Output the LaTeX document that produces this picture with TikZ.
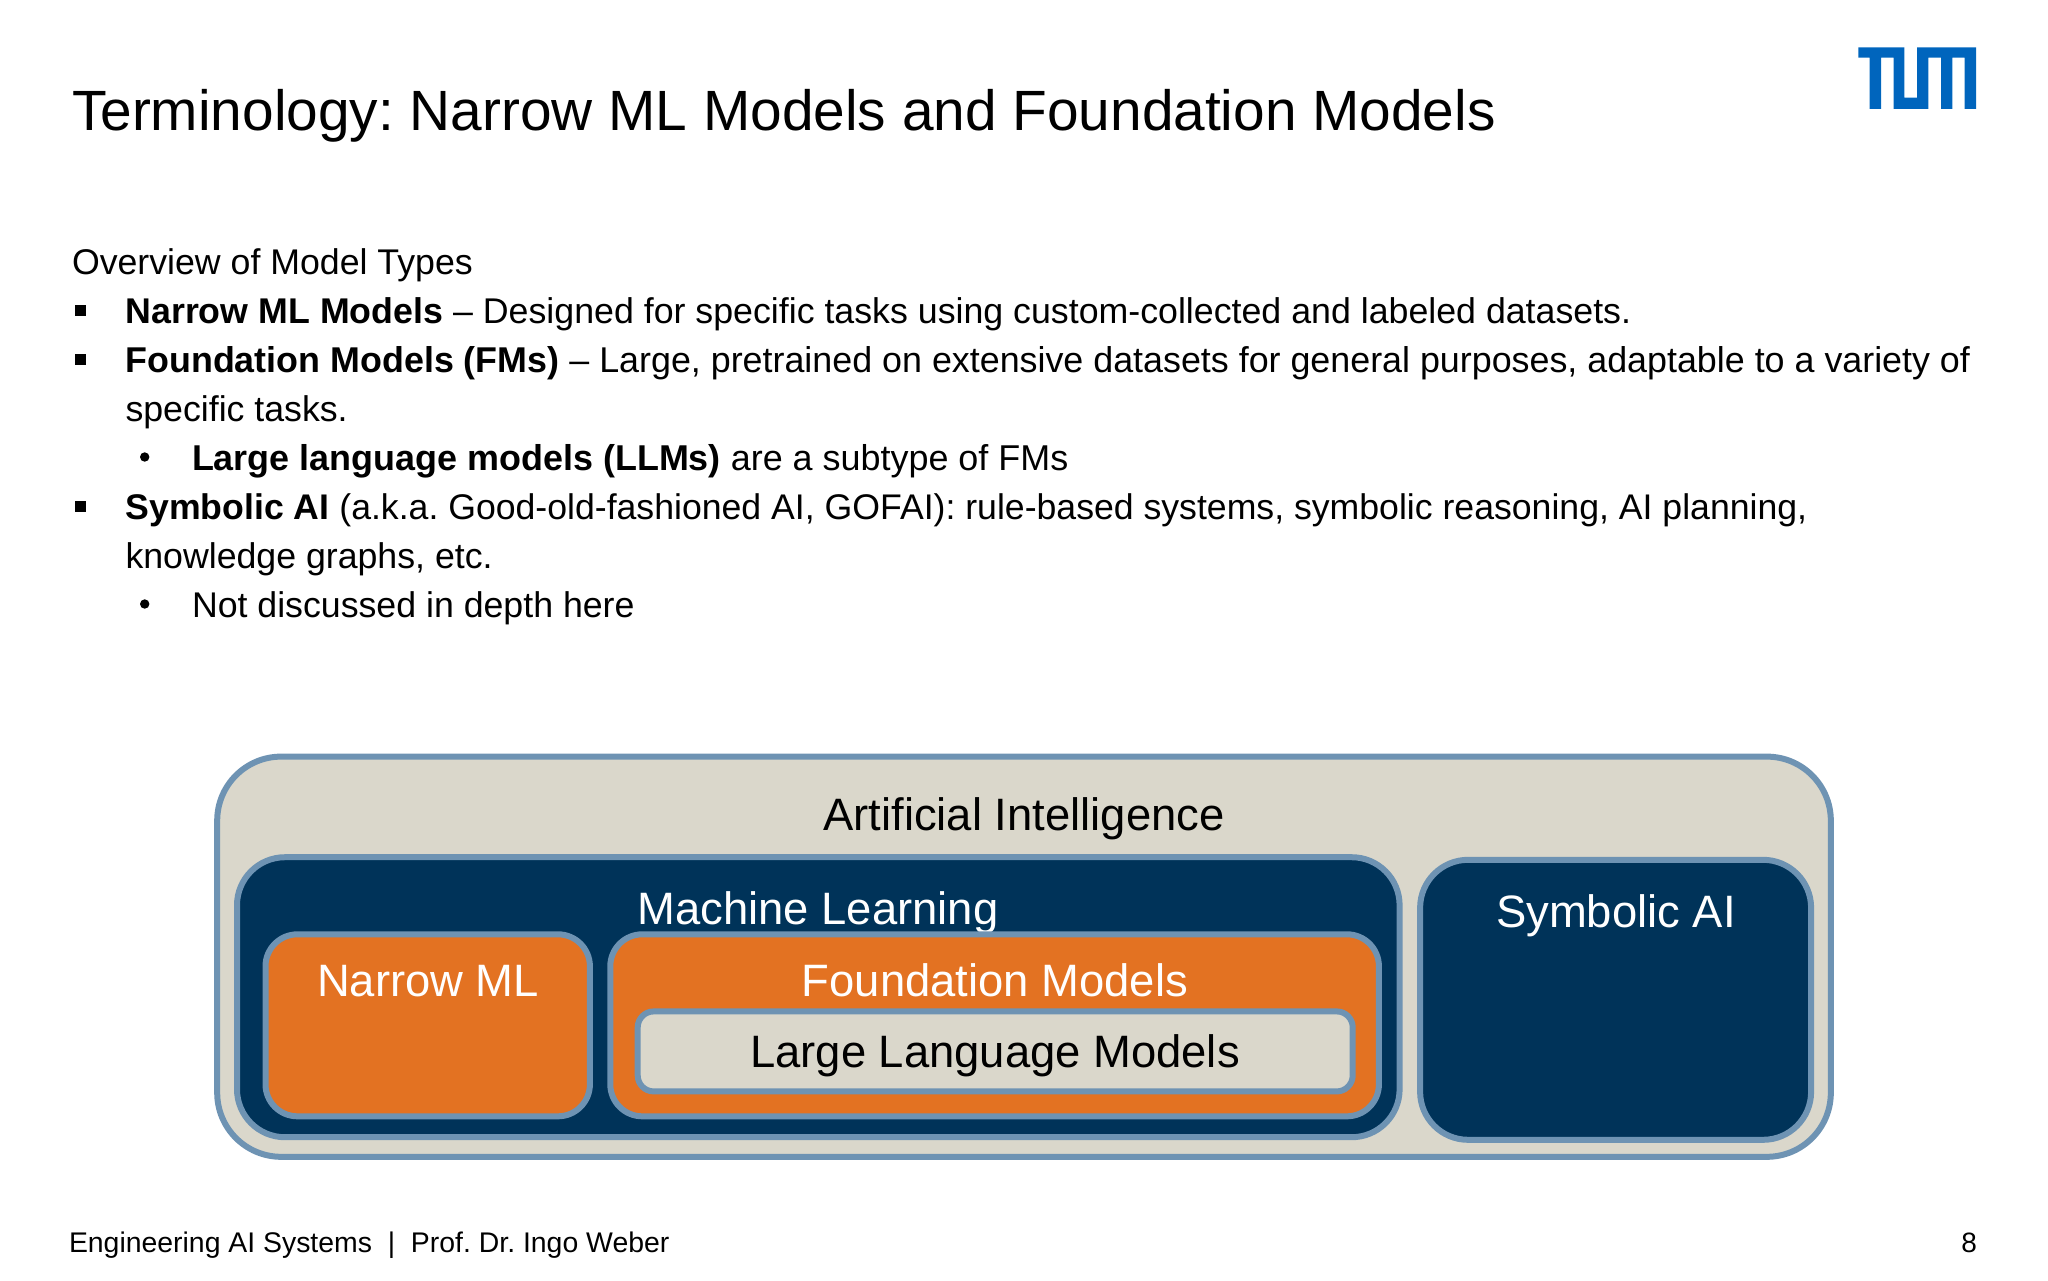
\documentclass[tikz,border=0pt]{standalone}
\usepackage{fontspec}
\setmainfont{Liberation Sans}
\usetikzlibrary{positioning}
\definecolor{tumblue}{HTML}{0065BD}
\definecolor{navy}{HTML}{003359}
\definecolor{tumorange}{HTML}{E37222}
\definecolor{sand}{HTML}{DAD7CB}
\definecolor{rim}{HTML}{6E93B3}
\tikzset{
  every node/.style={inner sep=0,outer sep=0},
  body/.style={anchor=base west,font=\fontsize{#1}{18}\selectfont\frenchspacing},
  body/.default=17.85,
  box/.style={draw=rim,line width=3pt,rounded corners=#1},
  label/.style={font=\fontsize{22.7}{23}\selectfont,anchor=base},
}
\begin{document}
\begin{tikzpicture}[x=0.5pt,y=-0.5pt]
      \path[use as bounding box](0,0)rectangle(2048,1280);
      % heading
      \node(title)[anchor=base west,font=\fontsize{28.4}{29}\selectfont\frenchspacing] at (72,130.5){Terminology: Narrow ML Models and Foundation Models};
      \begin{scope}[shift={(1800,20)},x=0.5pt/3,y=-0.5pt/3]
        \fill[tumblue](175,82)--(313,82)--(313,233)--(351,233)--(351,82)--(528,82)--(528,267)--(494,267)--(494,113)--(457,113)--(457,267)--(423,267)--(423,113)--(385,113)--(385,267)--(281,267)--(281,113)--(243,113)--(243,267)--(209,267)--(209,113)--(175,113)--cycle;
      \end{scope}

      % text lines
      \node(over)[body] at (72,274){Overview of Model Types};
      \node(b1)[body=17.87] at (125.5,323){\textbf{Narrow ML Models} – Designed for specific tasks using custom-collected and labeled datasets.};
      \node(b2)[body=17.92] at (125.5,372){\textbf{Foundation Models (FMs)} – Large, pretrained on extensive datasets for general purposes, adaptable to a variety of};
      \node(b2a)[body] at (125.5,421){specific tasks.};
      \node(b3)[body=17.96] at (192,470){\textbf{Large language models (LLMs)} are a subtype of FMs};
      \node(b4)[body=17.82] at (125.5,519){\textbf{Symbolic AI} (a.k.a. Good-old-fashioned AI, GOFAI): rule-based systems, symbolic reasoning, AI planning,};
      \node(b4a)[body] at (125.5,568){knowledge graphs, etc.};
      \node(b5)[body] at (192,617){Not discussed in depth here};
      \foreach \y in {323,372,519}
        \fill(74.5,\y-18) rectangle (85.5,\y-7);
      \foreach \y in {470,617}
        \fill(144.7,\y-13) circle (4.7);

      % nested boxes
      \node(ai)[box=32pt,fill=sand,minimum width=806.8pt,minimum height=200.1pt] at (1024,956.7){};
      \node(ailabel)[label] at (1024,830.5){Artificial Intelligence};
      \node(ml)[box=24pt,fill=navy,minimum width=581.3pt,minimum height=140pt] at (818.3,997.2){};
      \node(mllabel)[label,text=white] at (818,924.5){Machine Learning};
      \node(sym)[box=24pt,fill=navy,minimum width=195.5pt,minimum height=140pt] at (1615.6,999.8){};
      \node(symlabel)[label,text=white] at (1616,927){Symbolic AI};
      \node(nar)[box=16pt,fill=tumorange,minimum width=162.2pt,minimum height=91pt] at (427.7,1025.3){};
      \node(narlabel)[label,text=white] at (428,996.5){Narrow ML};
      \node(fm)[box=16pt,fill=tumorange,minimum width=384.3pt,minimum height=91pt] at (994.6,1025.3){};
      \node(fmlabel)[label,text=white] at (995,996.5){Foundation Models};
      \node(llm)[box=8pt,fill=sand,minimum width=357.5pt,minimum height=40pt] at (995.2,1051.4){};
      \node(llmlabel)[label] at (995,1067.5){Large Language Models};

      % footer
      \node(foot)[anchor=base west,font=\fontsize{14.2}{14}\selectfont\frenchspacing] at (69,1252.5){Engineering AI Systems \ | \ Prof. Dr. Ingo Weber};
      \node(page)[anchor=base east,font=\fontsize{14}{14}\selectfont] at (1977,1252.5){8};
\end{tikzpicture}
\end{document}
